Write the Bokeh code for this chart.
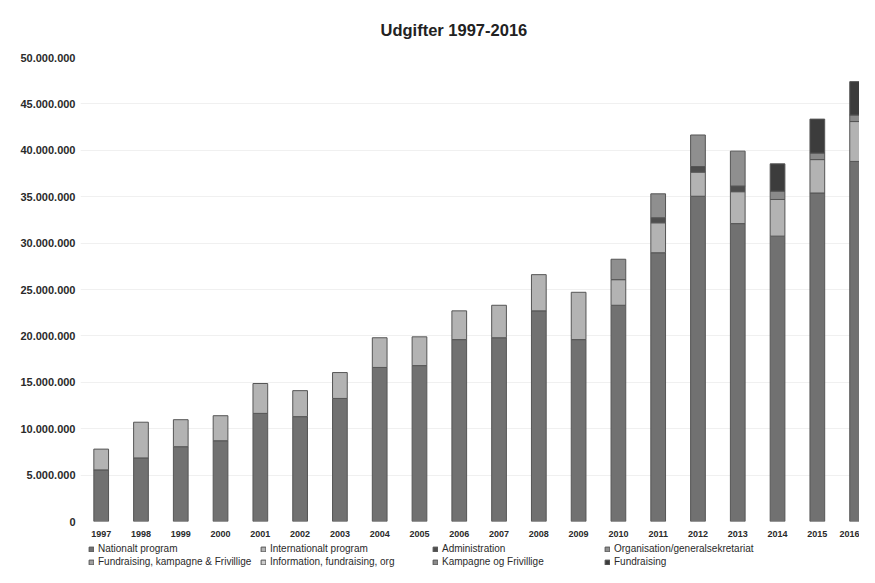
from bokeh.plotting import figure
from bokeh.layouts import column
from bokeh.models import (ColumnDataSource, Range1d, FixedTicker, Legend, LegendItem)
from bokeh.embed import file_html
from bokeh.resources import INLINE

# ---- data (values in million DKK) ----
years = [1997, 1998, 1999, 2000, 2001, 2002, 2003, 2004, 2005, 2006,
         2007, 2008, 2009, 2010, 2011, 2012, 2013, 2014, 2015, 2016]

nationalt_program = [5.56, 6.85, 8.06, 8.70, 11.65, 11.30, 13.26, 16.60, 16.80, 19.60,
                     19.80, 22.70, 19.60, 23.30, 28.96, 35.05, 32.10, 30.75, 35.40, 38.80]
internationalt_program = [2.24, 3.85, 2.91, 2.70, 3.22, 2.80, 2.79, 3.20, 3.10, 3.10,
                          3.50, 3.90, 5.10, 2.76, 3.23, 2.60, 3.44, 3.95, 3.60, 4.30]
administration = [0, 0, 0, 0, 0, 0, 0, 0, 0, 0,
                  0, 0, 0, 0, 0.54, 0.60, 0.61, 0, 0, 0]
organisation = [0, 0, 0, 0, 0, 0, 0, 0, 0, 0,
                0, 0, 0, 2.20, 2.58, 3.40, 3.76, 0, 0, 0]
fundraising_kampagne_frivillige = [0] * 20
information_fundraising_org = [0] * 20
kampagne_frivillige = [0, 0, 0, 0, 0, 0, 0, 0, 0, 0,
                       0, 0, 0, 0, 0, 0, 0, 0.90, 0.70, 0.70]
fundraising = [0, 0, 0, 0, 0, 0, 0, 0, 0, 0,
               0, 0, 0, 0, 0, 0, 0, 2.94, 3.66, 3.60]

series_names = ["Nationalt program", "Internationalt program", "Administration",
                "Organisation/generalsekretariat", "Fundraising, kampagne & Frivillige",
                "Information, fundraising, org", "Kampagne og Frivillige", "Fundraising"]
series_values = [nationalt_program, internationalt_program, administration, organisation,
                 fundraising_kampagne_frivillige, information_fundraising_org,
                 kampagne_frivillige, fundraising]
series_colors = ["#717171", "#b3b3b3", "#4e4e4e", "#8f8f8f",
                 "#a0a0a0", "#cccccc", "#8a8a8a", "#3c3c3c"]

y_ticks = [0, 5, 10, 15, 20, 25, 30, 35, 40, 45, 50]
y_tick_labels = ["0", "5.000.000", "10.000.000", "15.000.000", "20.000.000", "25.000.000",
                 "30.000.000", "35.000.000", "40.000.000", "45.000.000", "50.000.000"]

FONT = "Liberation Sans"
NAN = float("nan")
LINE = "#555555"

p = figure(width=859, height=540, output_backend="svg", toolbar_location=None,
           x_range=Range1d(1996.48, 2016.06), y_range=Range1d(0, 50),
           min_border_left=80, min_border_right=0, min_border_top=56,
           min_border_bottom=19, title="Udgifter 1997-2016")
p.title.align = "left"
p.title.offset = 300
p.title.text_font = FONT
p.title.text_font_size = "16.5px"
p.title.text_font_style = "bold"
p.title.text_color = "#222222"
p.title.standoff = 37

p.outline_line_color = None
p.background_fill_color = "white"
p.border_fill_color = "white"

p.xgrid.grid_line_color = None
p.ygrid.grid_line_color = "#f0f0f0"
p.ygrid.ticker = FixedTicker(ticks=y_ticks)

p.yaxis.ticker = FixedTicker(ticks=y_ticks)
p.yaxis.major_label_overrides = {t: l for t, l in zip(y_ticks, y_tick_labels)}
p.yaxis.axis_line_color = None
p.yaxis.major_tick_line_color = None
p.yaxis.minor_tick_line_color = None
p.yaxis.major_tick_out = 0
p.yaxis.major_label_standoff = 5
p.yaxis.major_label_text_font = FONT
p.yaxis.major_label_text_font_size = "11px"
p.yaxis.major_label_text_font_style = "bold"
p.yaxis.major_label_text_color = "#2a2a2a"

p.xaxis.ticker = FixedTicker(ticks=years)
p.xaxis.axis_line_color = None
p.xaxis.major_tick_line_color = None
p.xaxis.minor_tick_line_color = None
p.xaxis.major_tick_out = 0
p.xaxis.major_label_standoff = 9
p.xaxis.major_label_text_font = FONT
p.xaxis.major_label_text_font_size = "9px"
p.xaxis.major_label_text_font_style = "bold"
p.xaxis.major_label_text_color = "#2a2a2a"

bottoms = [0.0] * len(years)
for name, vals, col in zip(series_names, series_values, series_colors):
    bs, ts = [], []
    for i, v in enumerate(vals):
        bs.append(bottoms[i])
        if v > 0:
            ts.append(bottoms[i] + v)
            bottoms[i] += v
        else:
            ts.append(NAN)
    src = ColumnDataSource(dict(x=years, bottom=bs, top=ts))
    p.vbar(x="x", bottom="bottom", top="top", width=0.37, source=src,
           fill_color=col, line_color=LINE, line_width=1)

# ---- legend strip (separate figure so nothing is clipped) ----
pl = figure(width=859, height=27, output_backend="svg", toolbar_location=None,
            x_range=Range1d(0, 1), y_range=Range1d(0, 1),
            x_axis_location=None, y_axis_location=None,
            min_border_left=80, min_border_right=0, min_border_top=0,
            min_border_bottom=0)
pl.outline_line_color = None
pl.grid.visible = False
items = []
for name, col in zip(series_names, series_colors):
    r = pl.vbar(x=[0.5], top=[NAN], width=0.1, fill_color=col,
                line_color=LINE, line_width=1)
    items.append(LegendItem(label=name, renderers=[r]))


def make_legend(its, loc):
    return Legend(items=its, orientation="horizontal",
                  location=loc, margin=0, padding=1, spacing=2,
                  glyph_width=6, glyph_height=6, label_standoff=4,
                  label_width=160, label_height=11,
                  label_text_font=FONT, label_text_font_size="10px",
                  label_text_color="#2a2a2a",
                  border_line_color=None, background_fill_alpha=0)


pl.add_layout(make_legend(items[:4], (8, 13)), "center")
pl.add_layout(make_legend(items[4:], (8, 0)), "center")

layout = column(p, pl, spacing=0)
open("out.html", "w").write(file_html(layout, INLINE))
